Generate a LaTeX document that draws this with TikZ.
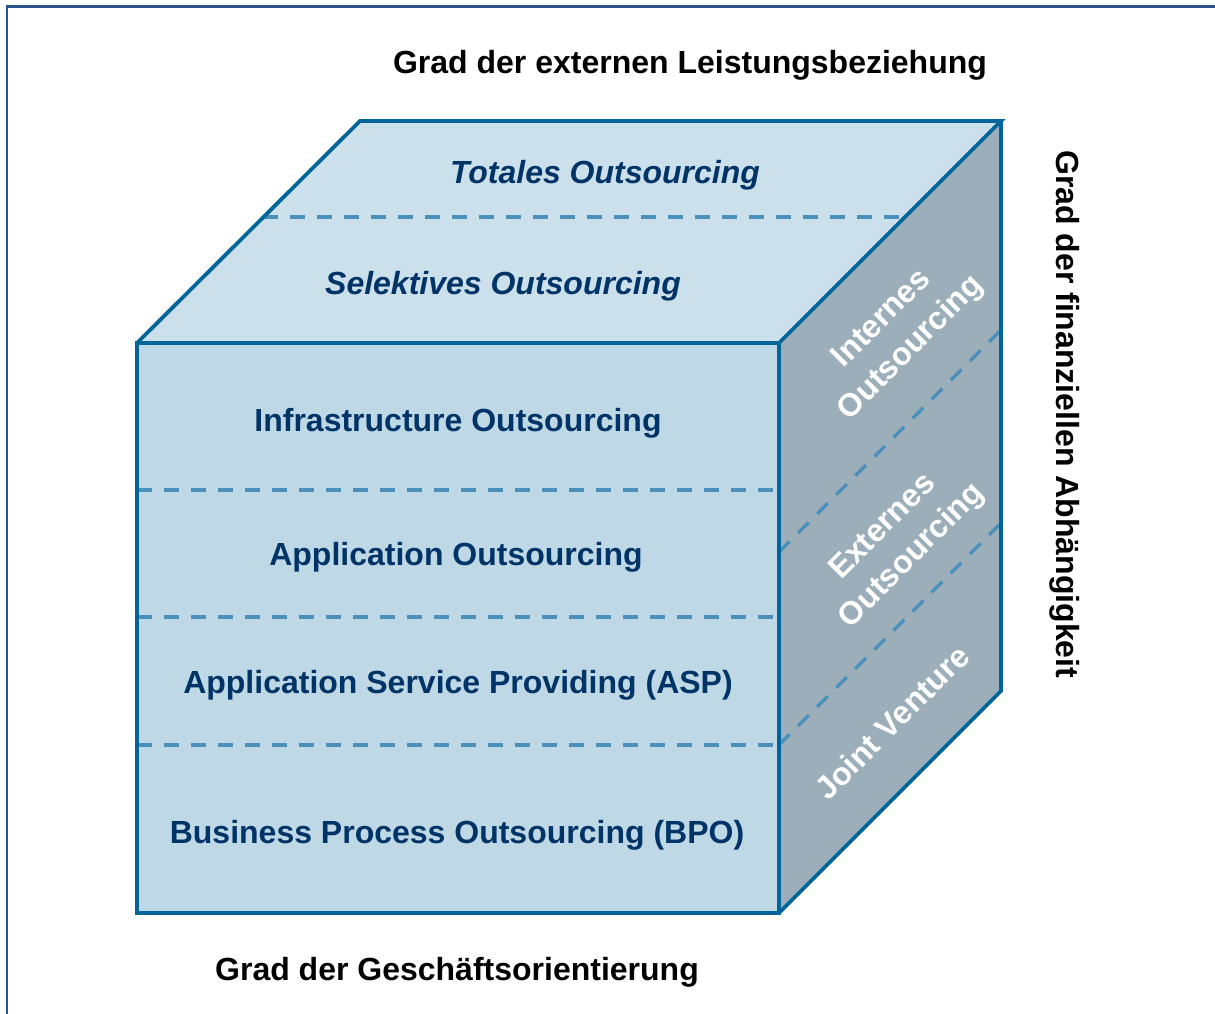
\documentclass[tikz,border=0pt]{standalone}
\usepackage{fontspec}
\setmainfont{Liberation Sans}

\definecolor{frontblue}{HTML}{BED8E6}
\definecolor{topblue}{HTML}{CCE0EB}
\definecolor{sidegrey}{HTML}{9BAEBA}
\definecolor{edgeblue}{HTML}{00669A}
\definecolor{dashblue}{HTML}{4A90BA}
\definecolor{navy}{HTML}{003366}
\definecolor{framblue}{HTML}{2A528C}

\begin{document}
\begin{tikzpicture}[x=1pt, y=-1pt,
    edge line/.style={draw=edgeblue, line width=3.8pt, line join=miter},
    layer line/.style={draw=dashblue, line width=3.5pt, dash pattern=on 15pt off 12pt},
    layer label/.style={text=navy, font=\bfseries\fontsize{32}{36}\selectfont},
    side label/.style={text=white, font=\bfseries\fontsize{32}{41}\selectfont, rotate=45, align=center, inner sep=0},
    axis label/.style={text=black, font=\bfseries\fontsize{32}{36}\selectfont}]
        \tikzstyle{every node}=[inner sep=0, anchor=base]

        \useasboundingbox (0,0) rectangle (1215,1014);
        \draw[framblue, line width=2.5pt] (1215,6.5) -| (7,1014);

        % corners of the cube
        \coordinate (fl) at (137,343);
        \coordinate (fr) at (779,343);
        \coordinate (bl) at (137,913);
        \coordinate (br) at (779,913);
        \coordinate (tl) at (360,121);
        \coordinate (tr) at (1001,121);
        \coordinate (dr) at (1001,691);

        % faces
        \fill[frontblue] (fl) rectangle (br);
        \fill[topblue] (fl) -- (tl) -- (tr) -- (fr) -- cycle;
        \fill[sidegrey] (fr) -- (tr) -- (dr) -- (br) -- cycle;

        % dashed layers
        \draw[layer line] (263,217) -- (905,217);
        \foreach \y in {490,617,745}
            \draw[layer line] (137,\y) -- (779,\y);
        \draw[layer line] (779,552) -- (1001,330);
        \draw[layer line] (779,745) -- (1001,523);

        % outline
        \draw[edge line] (fl) rectangle (br);
        \draw[edge line] (fl) -- (tl) -- (tr) -- (fr);
        \draw[edge line] (tr) -- (dr) -- (br);

        % texts
        \node[axis label] (top) at (690,74) {Grad der externen Leistungsbeziehung};
        \node[axis label] (bottom) at (457,980) {Grad der Geschäftsorientierung};
        \node[axis label, rotate=-90, anchor=base west] (right) at (1056,150) {Grad der finanziellen  Abhängigkeit};

        \node[layer label, font=\bfseries\itshape\fontsize{32}{36}\selectfont] (1) at (605,183) {Totales Outsourcing};
        \node[layer label, font=\bfseries\itshape\fontsize{32}{36}\selectfont] (2) at (503,294) {Selektives Outsourcing};
        \node[layer label] (3) at (458,431) {Infrastructure Outsourcing};
        \node[layer label] (4) at (456,565) {Application  Outsourcing};
        \node[layer label] (5) at (458,693) {Application  Service Providing (ASP)};
        \node[layer label] (6) at (457,843) {Business Process Outsourcing (BPO)};

        \node[side label, anchor=center] (7) at (897,334) {Internes\\Outsourcing};
        \node[side label, anchor=center] (8) at (898,542) {Externes\\Outsourcing};
        \node[side label, anchor=center] (9) at (892,722) {Joint Venture};

\end{tikzpicture}
\end{document}
